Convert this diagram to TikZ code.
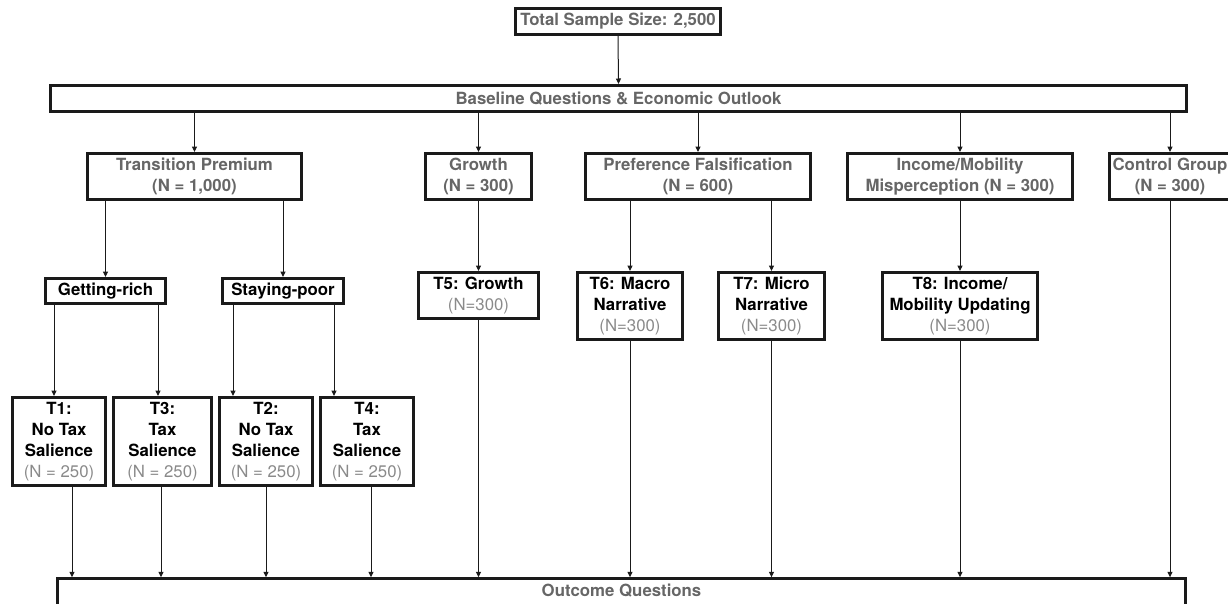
\documentclass[tikz,border=0pt]{standalone}
\usepackage{fontspec}
\setmainfont{TeX Gyre Heros}
\usetikzlibrary{arrows.meta}
\definecolor{grp}{HTML}{666666}
\definecolor{ncol}{HTML}{8A8A8A}
\definecolor{edge}{HTML}{1A1A1A}
\begin{document}
\begin{tikzpicture}[x=1pt,y=-1pt,
  box/.style={draw=edge,line width=2.6pt,rectangle,inner sep=0pt,align=center,
    font=\fontsize{16.8}{21}\selectfont\bfseries},
  grpbox/.style={box,text=grp},
  tbox/.style={box,text=black},
  arr/.style={draw=edge,line width=1pt,-{Triangle[width=5pt,length=5.5pt]}}]
\useasboundingbox (0,0) rectangle (1228,603);
\begin{scope}
\clip (0,0) rectangle (1228,603);
% top
\node[grpbox,minimum width=205.4,minimum height=26.4] (total) at (618,21.5) {Total Sample Size: 2,500};
\node[grpbox,minimum width=1136.4,minimum height=26.4] (base) at (618.5,98.5) {Baseline Questions \& Economic Outlook};
% groups
\node[grpbox,minimum width=214.4,minimum height=46.4] (tp) at (194.5,176.5) {Transition Premium\\(N = 1,000)};
\node[grpbox,minimum width=106.4,minimum height=46.4] (gr) at (478.5,176.5) {Growth\\(N = 300)};
\node[grpbox,minimum width=225.4,minimum height=46.4] (pf) at (698,176.5) {Preference Falsification\\(N = 600)};
\node[grpbox,minimum width=225.4,minimum height=46.4] (im) at (960,176.5) {Income/Mobility\\Misperception (N = 300)};
\node[grpbox,minimum width=121.4,minimum height=46.4] (cg) at (1170,176.5) {Control Group\\(N = 300)};
% second level
\node[tbox,minimum width=120.4,minimum height=25.4] (rich) at (105.5,291) {Getting-rich};
\node[tbox,minimum width=121.4,minimum height=25.4] (poor) at (283,291) {Staying-poor};
\node[tbox,minimum width=120.4,minimum height=46.4] (t5) at (478.5,295.5) {T5: Growth\\\textcolor{ncol}{\mdseries(N=300)}};
\node[tbox,minimum width=105.4,minimum height=67.4] (t6) at (630,306) {T6: Macro\\Narrative\\\textcolor{ncol}{\mdseries(N=300)}};
\node[tbox,minimum width=106.4,minimum height=67.4] (t7) at (771.5,306) {T7: Micro\\Narrative\\\textcolor{ncol}{\mdseries(N=300)}};
\node[tbox,minimum width=155.4,minimum height=67.4] (t8) at (960,306) {T8: Income/\\Mobility Updating\\\textcolor{ncol}{\mdseries(N=300)}};
% third level
\node[tbox,minimum width=93.4,minimum height=88.4] (t1) at (59,441.5) {T1:\\No Tax\\Salience\\\textcolor{ncol}{\mdseries(N = 250)}};
\node[tbox,minimum width=98.4,minimum height=88.4] (t3) at (162.5,441.5) {T3:\\Tax\\Salience\\\textcolor{ncol}{\mdseries(N = 250)}};
\node[tbox,minimum width=93.4,minimum height=88.4] (t2) at (266,441.5) {T2:\\No Tax\\Salience\\\textcolor{ncol}{\mdseries(N = 250)}};
\node[tbox,minimum width=93.4,minimum height=88.4] (t4) at (367,441.5) {T4:\\Tax\\Salience\\\textcolor{ncol}{\mdseries(N = 250)}};
% outcome (bottom edge lies below the page)
\node[grpbox,minimum width=1128.4,minimum height=32,anchor=north] (out) at (621.5,577.3) {};
\node[text=grp,font=\fontsize{16.8}{21}\selectfont\bfseries] (outlbl) at (621.5,591) {Outcome Questions};
% connectors
\draw[arr] (total.south) -- (base.north);
\draw[arr] (base.south -| tp.north) -- (tp.north);
\draw[arr] (base.south -| gr.north) -- (gr.north);
\draw[arr] (base.south -| pf.north) -- (pf.north);
\draw[arr] (base.south -| im.north) -- (im.north);
\draw[arr] (base.south -| cg.north) -- (cg.north);
\draw[arr] (tp.south -| rich.north) -- (rich.north);
\draw[arr] (tp.south -| poor.north) -- (poor.north);
\draw[arr] (gr.south) -- (t5.north);
\draw[arr] (pf.south -| t6.north) -- (t6.north);
\draw[arr] (pf.south -| t7.north) -- (t7.north);
\draw[arr] (im.south) -- (t8.north);
\draw[arr] ([xshift=-51.5]rich.south) -- ([xshift=-51.5]rich.south |- t1.north);
\draw[arr] ([xshift=52.5]rich.south) -- ([xshift=52.5]rich.south |- t3.north);
\draw[arr] ([xshift=-50]poor.south) -- ([xshift=-50]poor.south |- t2.north);
\draw[arr] ([xshift=51]poor.south) -- ([xshift=51]poor.south |- t4.north);
\draw[arr] ([xshift=13]t1.south) -- ([xshift=13]t1.south |- out.north);
\draw[arr] ([xshift=-1.5]t3.south) -- ([xshift=-1.5]t3.south |- out.north);
\draw[arr] (t2.south) -- (t2.south |- out.north);
\draw[arr] ([xshift=4]t4.south) -- ([xshift=4]t4.south |- out.north);
\draw[arr] (t5.south) -- (t5.south |- out.north);
\draw[arr] (t6.south) -- (t6.south |- out.north);
\draw[arr] (t7.south) -- (t7.south |- out.north);
\draw[arr] (t8.south) -- (t8.south |- out.north);
\draw[arr] (cg.south) -- (cg.south |- out.north);
\end{scope}
\end{tikzpicture}
\end{document}
